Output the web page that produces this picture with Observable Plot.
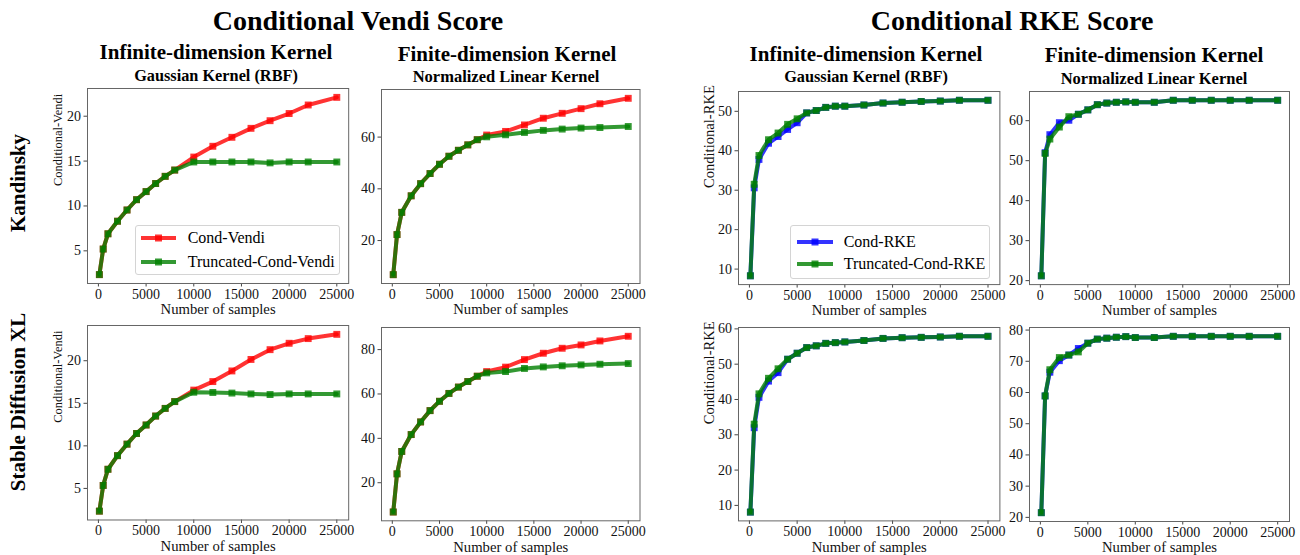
<!DOCTYPE html>
<html>
<head>
<meta charset="utf-8">
<script src="https://cdn.jsdelivr.net/npm/d3@7"></script>
<script src="https://cdn.jsdelivr.net/npm/@observablehq/plot@0.6"></script>
<style>
  html, body { margin: 0; padding: 0; background: #fff; }
  body { width: 1300px; height: 555px; position: relative; overflow: hidden; font-family: "Liberation Serif", "Times New Roman", serif; color: #000; }
  .t { position: absolute; white-space: nowrap; transform: translate(-50%, -50%); font-weight: bold; line-height: 1; }
  .rowlab { position: absolute; white-space: nowrap; font-weight: bold; line-height: 1; transform: translate(-50%, -50%) rotate(-90deg); font-size: 21px; }
  .panel { position: absolute; }
  .panel svg { overflow: visible; }
  .legend { position: absolute; border: 1px solid #d4d4d4; border-radius: 3px; background: rgba(255,255,255,0.85); box-sizing: border-box; }
  .legend .row { position: absolute; left: 0; height: 20px; display: flex; align-items: center; font-size: 16px; white-space: nowrap; }
  .legend svg { display: block; }
</style>
</head>
<body>
<script>
// ---------------- data ----------------
const samplesA = [100, 500, 1000, 2000, 3000, 4000, 5000, 6000, 7000, 8000, 10000, 12000, 14000, 16000, 18000, 20000, 22000, 25000];
const samplesB = [100, 500, 1000, 2000, 3000, 4000, 5000, 6000, 7000, 8000, 9000, 10000, 12000, 14000, 16000, 18000, 20000, 22000, 25000];
const xTicks = [0, 5000, 10000, 15000, 20000, 25000];

// Kandinsky
const kandVendiRbfCond  = [2.35, 5.2, 6.9, 8.3, 9.55, 10.7, 11.6, 12.5, 13.3, 14.0, 15.45, 16.65, 17.65, 18.65, 19.5, 20.3, 21.25, 22.1];
const kandVendiRbfTrunc = [2.35, 5.2, 6.9, 8.3, 9.55, 10.7, 11.6, 12.5, 13.3, 14.0, 14.9, 14.9, 14.9, 14.9, 14.8, 14.9, 14.9, 14.9];
const kandVendiLinCond  = [6.8, 22.3, 30.9, 37.3, 42.0, 45.9, 49.5, 52.6, 54.9, 57.0, 59.0, 60.8, 62.2, 64.7, 67.3, 69.2, 71.0, 72.9, 75.0];
const kandVendiLinTrunc = [6.8, 22.3, 30.9, 37.3, 42.0, 45.9, 49.5, 52.6, 54.9, 57.0, 59.0, 60.1, 60.9, 61.8, 62.6, 63.1, 63.5, 63.7, 64.1];
const kandRkeRbfCond    = [8.3, 30.6, 37.8, 41.9, 43.6, 45.4, 47.1, 49.6, 50.2, 51.0, 51.3, 51.3, 51.6, 52.1, 52.3, 52.5, 52.6, 52.8, 52.8];
const kandRkeRbfTrunc   = [8.3, 31.5, 38.8, 42.8, 44.5, 46.7, 48.1, 49.6, 50.2, 51.0, 51.3, 51.3, 51.6, 52.1, 52.3, 52.5, 52.6, 52.8, 52.8];
const kandRkeLinCond    = [21.2, 52.0, 56.5, 59.5, 60.1, 61.6, 62.7, 64.0, 64.4, 64.6, 64.7, 64.6, 64.6, 65.1, 65.1, 65.1, 65.1, 65.1, 65.1];
const kandRkeLinTrunc   = [21.2, 51.8, 55.4, 58.4, 61.0, 61.6, 62.7, 64.0, 64.4, 64.6, 64.7, 64.6, 64.6, 65.1, 65.1, 65.1, 65.1, 65.1, 65.1];

// Stable Diffusion XL
const sdxlVendiRbfCond  = [2.33, 5.35, 7.25, 8.85, 10.2, 11.45, 12.45, 13.5, 14.4, 15.2, 16.55, 17.55, 18.8, 20.15, 21.3, 22.05, 22.6, 23.1];
const sdxlVendiRbfTrunc = [2.33, 5.35, 7.25, 8.85, 10.2, 11.45, 12.45, 13.5, 14.4, 15.2, 16.3, 16.27, 16.2, 16.1, 16.03, 16.1, 16.1, 16.1];
const sdxlVendiLinCond  = [6.8, 24.0, 34.1, 41.7, 47.4, 52.5, 56.7, 60.25, 63.1, 65.6, 68.0, 70.1, 72.1, 75.5, 78.35, 80.6, 82.1, 83.9, 86.0];
const sdxlVendiLinTrunc = [6.8, 24.0, 34.1, 41.7, 47.4, 52.5, 56.7, 60.25, 63.1, 65.6, 68.0, 69.5, 70.1, 71.5, 72.2, 72.7, 73.1, 73.4, 73.7];
const sdxlRkeRbfCond    = [8.1, 32.0, 40.6, 45.2, 47.6, 51.4, 53.1, 54.7, 55.2, 55.9, 56.1, 56.3, 56.7, 57.3, 57.5, 57.6, 57.7, 57.9, 57.9];
const sdxlRkeRbfTrunc   = [8.1, 33.0, 41.6, 46.0, 48.7, 51.4, 53.1, 54.7, 55.2, 55.9, 56.1, 56.3, 56.7, 57.3, 57.5, 57.6, 57.7, 57.9, 57.9];
const sdxlRkeLinCond    = [21.5, 58.9, 66.5, 70.2, 72.0, 74.1, 75.8, 77.1, 77.4, 77.7, 77.9, 77.6, 77.6, 78.0, 78.0, 78.0, 78.0, 78.0, 78.0];
const sdxlRkeLinTrunc   = [21.5, 58.9, 67.3, 71.2, 72.0, 73.0, 75.8, 77.1, 77.4, 77.7, 77.9, 77.6, 77.6, 78.0, 78.0, 78.0, 78.0, 78.0, 78.0];

const vendiNames = ["Cond-Vendi", "Truncated-Cond-Vendi"];
const rkeNames = ["Cond-RKE", "Truncated-Cond-RKE"];
const RED = "#ff0000", GREEN = "#008000", BLUE = "#0000ff";

// ---------------- layout helpers ----------------
function addText(txt, x, y, size, cls = "t") {
  const d = document.createElement("div");
  d.className = cls;
  d.textContent = txt;
  d.style.left = x + "px";
  d.style.top = y + "px";
  if (size) d.style.fontSize = size + "px";
  document.body.appendChild(d);
}

function padDomain(vals) {
  const lo = d3.min(vals), hi = d3.max(vals), r = hi - lo;
  return [lo - 0.05 * r, hi + 0.05 * r];
}

function panel({ frame, xs, a, b, colA, colB, yTicks, ylabel, ylabelSize }) {
  const [l, t, r, bt] = frame;
  const mL = 60, mR = 10, mT = 6, mB = 40;
  const w = r - l, h = bt - t;
  const dataA = xs.map((x, i) => ({ x, y: a[i] }));
  const dataB = xs.map((x, i) => ({ x, y: b[i] }));
  const xDom = padDomain(xs);
  const yDom = padDomain(a.concat(b));
  const marks = [
    Plot.axisX({ ticks: xTicks, tickSize: 3.5, tickPadding: 2, tickFormat: d => String(d), label: null, fontSize: 14, stroke: "#444", fill: "#111" }),
    Plot.axisY({ ticks: yTicks, tickSize: 3.5, tickPadding: 3, tickFormat: d => String(d), label: null, fontSize: 14, stroke: "#444", fill: "#111" }),
    Plot.line(dataA, { x: "x", y: "y", stroke: colA, strokeWidth: 4, strokeOpacity: 0.8 }),
    Plot.dot(dataA, { x: "x", y: "y", symbol: "square", r: 3.9, fill: colA, fillOpacity: 0.8, stroke: "none" }),
    Plot.line(dataB, { x: "x", y: "y", stroke: colB, strokeWidth: 4, strokeOpacity: 0.8 }),
    Plot.dot(dataB, { x: "x", y: "y", symbol: "square", r: 3.9, fill: colB, fillOpacity: 0.8, stroke: "none" }),
    Plot.frame({ stroke: "#666", strokeWidth: 1 }),
    Plot.text(["Number of samples"], { frameAnchor: "bottom", dy: 26, fontSize: 14.7, fill: "#111", lineAnchor: "middle" })
  ];
  if (ylabel) {
    marks.push(Plot.text([ylabel], { frameAnchor: "left", dx: -29.5, rotate: -90, fontSize: ylabelSize, fill: "#111", lineAnchor: "middle" }));
  }
  const chart = Plot.plot({
    width: mL + w + mR,
    height: mT + h + mB,
    marginLeft: mL, marginRight: mR, marginTop: mT, marginBottom: mB,
    x: { domain: xDom },
    y: { domain: yDom },
    style: { fontFamily: "'Liberation Serif', 'Times New Roman', serif", background: "transparent", overflow: "visible" },
    marks
  });
  const holder = document.createElement("div");
  holder.className = "panel";
  holder.style.left = (l - mL) + "px";
  holder.style.top = (t - mT) + "px";
  holder.appendChild(chart);
  document.body.appendChild(holder);
}

function legend({ left, top, width, height, rows, names, colors, handleX, textX }) {
  const box = document.createElement("div");
  box.className = "legend";
  Object.assign(box.style, { left: left + "px", top: top + "px", width: width + "px", height: height + "px" });
  names.forEach((name, i) => {
    const row = document.createElement("div");
    row.className = "row";
    row.style.top = (rows[i] - top - 10) + "px";
    const ns = "http://www.w3.org/2000/svg";
    const svg = document.createElementNS(ns, "svg");
    svg.setAttribute("width", textX - left);
    svg.setAttribute("height", 20);
    const ln = document.createElementNS(ns, "line");
    ln.setAttribute("x1", handleX[0] - left); ln.setAttribute("x2", handleX[1] - left);
    ln.setAttribute("y1", 10); ln.setAttribute("y2", 10);
    ln.setAttribute("stroke", colors[i]); ln.setAttribute("stroke-width", 4); ln.setAttribute("stroke-opacity", 0.8);
    const sq = document.createElementNS(ns, "rect");
    const cx = (handleX[0] + handleX[1]) / 2 - left;
    sq.setAttribute("x", cx - 3.5); sq.setAttribute("y", 6.5); sq.setAttribute("width", 7); sq.setAttribute("height", 7);
    sq.setAttribute("fill", colors[i]); sq.setAttribute("fill-opacity", 0.8);
    svg.appendChild(ln); svg.appendChild(sq);
    row.appendChild(svg);
    const sp = document.createElement("span");
    sp.textContent = name;
    row.appendChild(sp);
    box.appendChild(row);
  });
  document.body.appendChild(box);
}

// ---------------- titles ----------------
addText("Conditional Vendi Score", 358, 21, 28);
addText("Conditional RKE Score", 1012, 21, 28);
addText("Infinite-dimension Kernel", 216, 52, 21);
addText("Gaussian Kernel (RBF)", 216, 75.5, 16.3);
addText("Finite-dimension Kernel", 507, 53.5, 21);
addText("Normalized Linear Kernel", 506, 77, 16.5);
addText("Infinite-dimension Kernel", 866, 53.5, 21);
addText("Gaussian Kernel (RBF)", 866, 77, 16.3);
addText("Finite-dimension Kernel", 1154, 55, 21);
addText("Normalized Linear Kernel", 1154, 79, 16.5);
addText("Kandinsky", 18, 183, 21, "rowlab");
addText("Stable Diffusion XL", 18, 402, 21, "rowlab");

// ---------------- panels ----------------
panel({ frame: [87.3, 88.3, 348.5, 283.3], xs: samplesA, a: kandVendiRbfCond, b: kandVendiRbfTrunc, colA: RED, colB: GREEN, yTicks: [5, 10, 15, 20], ylabel: "Conditional-Vendi", ylabelSize: 12.5 });
panel({ frame: [381.3, 89.3, 639.8, 283.3], xs: samplesB, a: kandVendiLinCond, b: kandVendiLinTrunc, colA: RED, colB: GREEN, yTicks: [20, 40, 60] });
panel({ frame: [737.6, 90.7, 999, 283.8], xs: samplesB, a: kandRkeRbfCond, b: kandRkeRbfTrunc, colA: BLUE, colB: GREEN, yTicks: [10, 20, 30, 40, 50], ylabel: "Conditional-RKE", ylabelSize: 14.6 });
panel({ frame: [1028.5, 90.7, 1288.5, 283.8], xs: samplesB, a: kandRkeLinCond, b: kandRkeLinTrunc, colA: BLUE, colB: GREEN, yTicks: [20, 30, 40, 50, 60] });

panel({ frame: [87.3, 325, 348.5, 519.5], xs: samplesA, a: sdxlVendiRbfCond, b: sdxlVendiRbfTrunc, colA: RED, colB: GREEN, yTicks: [5, 10, 15, 20], ylabel: "Conditional-Vendi", ylabelSize: 12.5 });
panel({ frame: [381.3, 326.7, 639.8, 520], xs: samplesB, a: sdxlVendiLinCond, b: sdxlVendiLinTrunc, colA: RED, colB: GREEN, yTicks: [20, 40, 60, 80] });
panel({ frame: [737.6, 327.3, 999, 520.7], xs: samplesB, a: sdxlRkeRbfCond, b: sdxlRkeRbfTrunc, colA: BLUE, colB: GREEN, yTicks: [10, 20, 30, 40, 50, 60], ylabel: "Conditional-RKE", ylabelSize: 14.6 });
panel({ frame: [1028.5, 326.7, 1288.5, 520.7], xs: samplesB, a: sdxlRkeLinCond, b: sdxlRkeLinTrunc, colA: BLUE, colB: GREEN, yTicks: [20, 30, 40, 50, 60, 70, 80] });

// ---------------- legends ----------------
legend({ left: 135, top: 225, width: 205, height: 50, rows: [237.3, 260.7], names: vendiNames, colors: [RED, GREEN], handleX: [140, 175], textX: 186.7 });
legend({ left: 790, top: 225, width: 200, height: 54, rows: [241, 262.7], names: rkeNames, colors: [BLUE, GREEN], handleX: [796, 832], textX: 842.7 });
</script>
</body>
</html>
